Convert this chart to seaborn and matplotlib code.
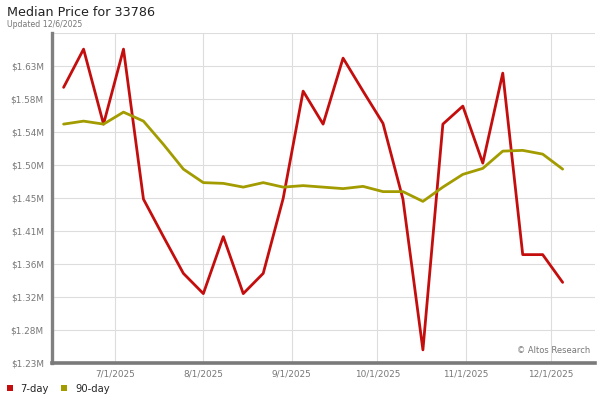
import matplotlib
matplotlib.use('Agg')
import matplotlib.pyplot as plt
import matplotlib.dates as mdates
from matplotlib.patches import Patch
import matplotlib.ticker as mticker
import pandas as pd
import seaborn as sns

# weekly dates
dates = pd.date_range('2025-06-13', '2025-12-05', freq='7D')

# median price in $M
seven_day = [1.600, 1.651, 1.551, 1.651, 1.451, 1.401, 1.352, 1.325, 1.401, 1.325,
             1.352, 1.452, 1.595, 1.551, 1.639, 1.595, 1.552, 1.451, 1.250, 1.551,
             1.575, 1.499, 1.619, 1.377, 1.377, 1.340]
ninety_day = [1.551, 1.555, 1.551, 1.567, 1.555, 1.524, 1.491, 1.473, 1.472, 1.467,
              1.473, 1.467, 1.469, 1.467, 1.465, 1.468, 1.461, 1.461, 1.448, 1.467,
              1.484, 1.492, 1.515, 1.516, 1.511, 1.491]

series_names = ['7-day', '90-day']
colors = {'7-day': '#c40e0e', '90-day': '#a39c00'}

y_ticks = [1.2325 + 0.044 * i for i in range(11)]
x_ticks = pd.to_datetime(['2025-07-01', '2025-08-01', '2025-09-01',
                          '2025-10-01', '2025-11-01', '2025-12-01'])

df = pd.concat([
    pd.DataFrame({'date': dates, 'price': seven_day, 'series': '7-day'}),
    pd.DataFrame({'date': dates, 'price': ninety_day, 'series': '90-day'}),
])

sns.set_style('white')
plt.rcParams['font.family'] = ['DejaVu Sans']

fig = plt.figure(figsize=(6, 4), dpi=100)
ax = fig.add_axes([0.087, 0.0925, 0.905, 0.825])

sns.lineplot(data=df, x='date', y='price', hue='series', hue_order=series_names,
             palette=colors, linewidth=2.0, legend=False, ax=ax)

ax.set_xlim(pd.Timestamp('2025-06-09'), pd.Timestamp('2025-12-16 10:00'))
ax.set_ylim(y_ticks[0], y_ticks[-1])
ax.set_yticks(y_ticks[:-1])
ax.yaxis.set_major_formatter(mticker.FuncFormatter(lambda v, p: '$%.2fM' % v))
ax.set_xticks(x_ticks)
ax.xaxis.set_major_formatter(mdates.DateFormatter('%-m/%-d/%Y'))
ax.set_xlabel('')
ax.set_ylabel('')

# grid incl. top line
ax.grid(True, color='#dddddd', linewidth=0.8)
ax.axhline(y_ticks[-1], color='#dddddd', linewidth=0.8)
ax.set_axisbelow(True)
for s in ['top', 'right']:
    ax.spines[s].set_visible(False)
ax.spines['left'].set_color('#808080')
ax.spines['left'].set_linewidth(2.4)
ax.spines['bottom'].set_color('#7a7a7a')
ax.spines['bottom'].set_linewidth(2.6)
ax.tick_params(axis='both', length=0, labelsize=6.4, colors='#777777')
ax.tick_params(axis='x', pad=5)
ax.tick_params(axis='y', pad=6)

fig.text(0.012, 0.968, 'Median Price for 33786', fontsize=9.2, color='#222222', va='center')
fig.text(0.012, 0.938, 'Updated 12/6/2025', fontsize=5.6, color='#777777', va='center')
ax.text(0.99, 0.025, '\u00a9 Altos Research', transform=ax.transAxes,
        fontsize=6, color='#777777', ha='right', va='bottom')

handles = [Patch(facecolor=colors[n], edgecolor='none', label=n) for n in series_names]
fig.legend(handles=handles, loc='lower left', bbox_to_anchor=(0.0, 0.0), ncol=2,
           frameon=False, fontsize=7.2, handlelength=0.6, handleheight=0.6,
           handletextpad=0.8, columnspacing=1.2, borderaxespad=0.25)

fig.savefig('out.png', dpi=100)
